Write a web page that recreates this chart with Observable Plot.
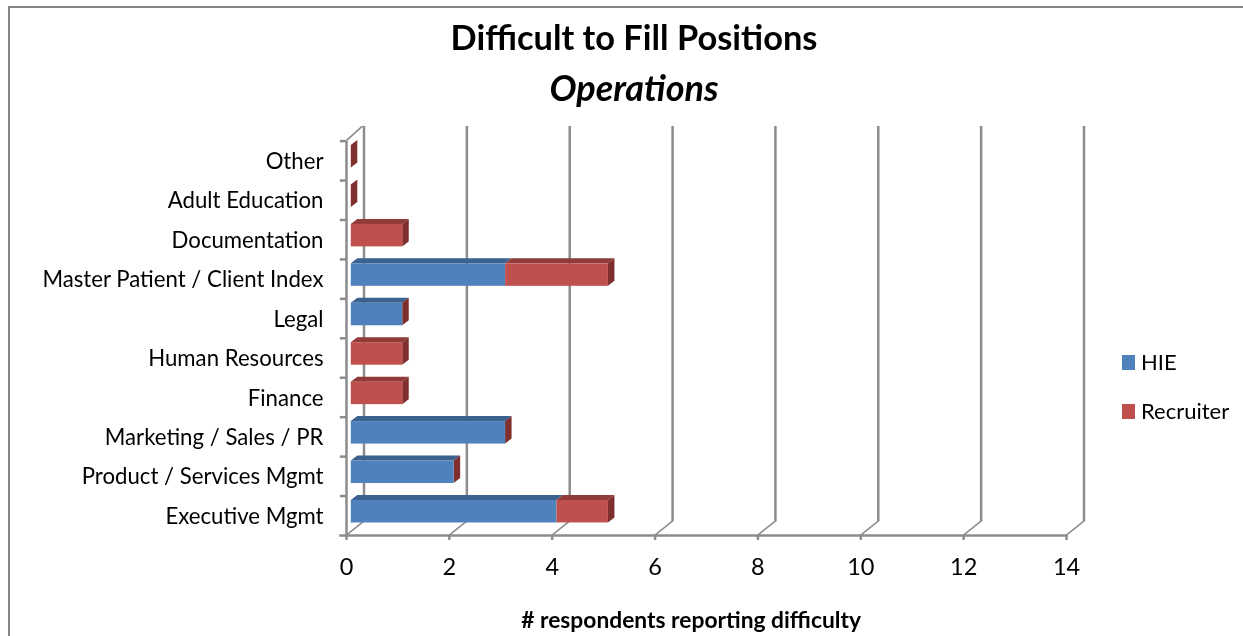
<!DOCTYPE html>
<html>
<head>
<meta charset="utf-8">
<script src="https://cdn.jsdelivr.net/npm/d3@7"></script>
<script src="https://cdn.jsdelivr.net/npm/@observablehq/plot@0.6"></script>
<style>
  html, body { margin: 0; padding: 0; background: #fff; overflow: hidden; }
  #chart { position: relative; width: 1243px; height: 636px; overflow: hidden; font-family: Lato, sans-serif; color: #000; filter: blur(0.35px); }
  #frame { position: absolute; left: 8px; top: 6px; width: 1260px; height: 660px; border: 2.5px solid #868686; box-sizing: border-box; }
  #head { position: relative; height: 110px; text-align: center; }
  #head div { position: absolute; left: 0; width: 1268px; font-weight: 700; line-height: 1; color: #000; }
  #title { top: 20px; font-size: 34.4px; }
  #sub { top: 69px; font-size: 36px; font-style: italic; }
  #legend { position: absolute; left: 1122px; top: 0; font-size: 22px; }
  #legend span { position: absolute; white-space: nowrap; left: 19px; line-height: 1; }
  #legend i { position: absolute; left: 0; width: 13px; height: 15px; }
  svg { display: block; }
</style>
</head>
<body>
<div id="chart">
  <div id="frame"></div>
  <div id="head"><div id="title">Difficult to Fill Positions</div><div id="sub">Operations</div></div>
  <div id="plot"></div>
  <div id="legend"></div>
</div>
<script>
const categories = ["Other", "Adult Education", "Documentation", "Master Patient / Client Index", "Legal", "Human Resources", "Finance", "Marketing / Sales / PR", "Product / Services Mgmt", "Executive Mgmt"];
const hie =       [0, 0, 0, 3, 1, 0, 0, 3, 2, 4];
const recruiter = [0, 0, 1, 2, 0, 1, 1, 0, 0, 1];
const xTicks = [0, 2, 4, 6, 8, 10, 12, 14];
const seriesNames = ["HIE", "Recruiter"];
const faceColors = {HIE: "#4F81BD", Recruiter: "#C0504D"};
const topColors = {HIE: "#3B618F", Recruiter: "#913B39"};
const sideColor = "#7F302E";
const gridColor = "#8C8C8C";
const axisTitle = "# respondents reporting difficulty";

const rows = seriesNames.flatMap((series, s) =>
  categories.map((category, i) => ({category, series, value: (s === 0 ? hie : recruiter)[i]})));
const totals = categories.map((category, i) => ({category, total: hie[i] + recruiter[i]}));

// SVG-space geometry of the pseudo 3-D box
const top0 = 16, band0 = 30.6, floor = 425, svgH = 526;
const band = (floor - band0) / categories.length;
const barTop = 4.4, barH = 22.5, depthX = 6.5, depthY = 5, barDx = 4.8;
const wallDx = 17.5, wallDy = 14;
const lineW = 2.5;

// Shear every drawn element of a mark to produce receding faces
const sheared = (fn) => (index, scales, values, dims, ctx, next) => {
  const g = next(index, scales, values, dims, ctx);
  g.querySelectorAll("rect,line").forEach((el) => el.setAttribute("transform", fn(el)));
  return g;
};
const shearX = (k) => sheared((el) => {
  const y0 = el.tagName === "line" ? Math.max(+el.getAttribute("y1"), +el.getAttribute("y2")) : +el.getAttribute("y") + +el.getAttribute("height");
  return `matrix(1,0,${k},1,${-k * y0},0)`;
});
const shearY = (k) => sheared((el) => `matrix(1,${k},0,1,0,${-k * +el.getAttribute("x")})`);

const plot = Plot.plot({
  width: 1243,
  height: svgH,
  marginTop: top0,
  marginBottom: svgH - floor,
  marginLeft: 340,
  marginRight: 177,
  style: {fontFamily: "Lato, sans-serif", color: "#000", background: "transparent", overflow: "visible"},
  x: {domain: [0, 14], range: [346, 1066]},
  y: {type: "band", domain: categories, range: [band0, floor], padding: 0, round: false},
  color: {type: "identity"},
  marks: [
    // back wall gridlines
    Plot.ruleX(xTicks, {dx: wallDx, stroke: gridColor, strokeWidth: lineW, insetBottom: wallDy}),
    // floor diagonals
    Plot.ruleX(xTicks, {stroke: gridColor, strokeWidth: lineW, insetTop: floor - wallDy - top0, render: shearX(-wallDx / wallDy)}),
    // left wall edge + top diagonal
    Plot.ruleX([0], {stroke: gridColor, strokeWidth: lineW, insetTop: band0 - top0}),
    Plot.ruleX([0], {stroke: gridColor, strokeWidth: lineW, insetBottom: floor - band0, render: shearX(-16 / (band0 - top0))}),
    // y tick marks on band boundaries
    Plot.ruleY(categories, {y: (d) => d, x1: -0.12, x2: 0, dy: -band / 2, stroke: gridColor, strokeWidth: lineW}),
    Plot.frame({anchor: "bottom", stroke: gridColor, strokeWidth: lineW}),
    // bar top faces
    Plot.barX(rows, {x: "value", y: "category", fill: (d) => topColors[d.series], dx: barDx, insetTop: barTop - depthY, insetBottom: band - barTop, render: shearX(-depthX / depthY)}),
    // bar end faces
    Plot.barX(totals, {x1: "total", x2: "total", y: "category", fill: sideColor, dx: barDx, insetTop: barTop, insetBottom: band - barTop - barH, insetRight: -depthX, render: shearY(-depthY / depthX)}),
    // bar front faces
    Plot.barX(rows, {x: "value", y: "category", fill: (d) => faceColors[d.series], dx: barDx, insetTop: barTop, insetBottom: band - barTop - barH}),
    Plot.axisX({ticks: xTicks, tickSize: 5, tickPadding: 18, fontSize: 23.5, label: null, stroke: gridColor, strokeWidth: lineW, tickFormat: (d) => d, color: "#000"}),
    Plot.axisY({tickSize: 0, tickPadding: 17, fontSize: 22.2, label: null, dy: 1}),
    Plot.text([axisTitle], {x: () => 6.7, text: (d) => d, frameAnchor: "bottom", dy: 92, fontSize: 22.8, fontWeight: 700})
  ]
});
document.getElementById("plot").appendChild(plot);

const legend = document.getElementById("legend");
[["HIE", 355, 351], ["Recruiter", 404, 400]].forEach(([name, sy, ty]) => {
  const sw = document.createElement("i");
  sw.style.top = sy + "px";
  sw.style.background = faceColors[name];
  legend.appendChild(sw);
  const t = document.createElement("span");
  t.textContent = name;
  t.style.top = ty + "px";
  legend.appendChild(t);
});
</script>
</body>
</html>
